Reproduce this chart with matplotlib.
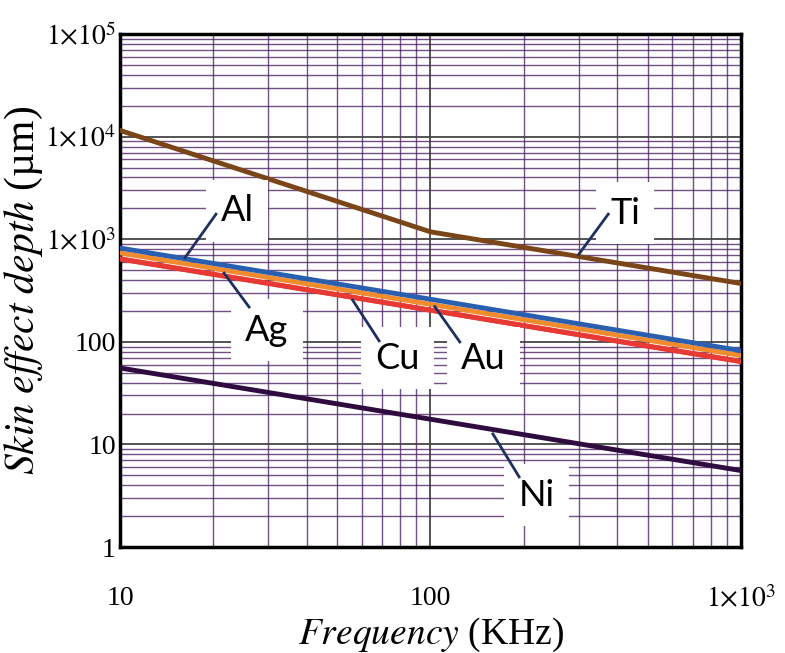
import numpy as np
import matplotlib.pyplot as plt
from matplotlib.ticker import FixedLocator, LogLocator, NullFormatter

plt.rcParams['mathtext.fontset'] = 'stix'
plt.rcParams['font.family'] = 'Liberation Serif'

# frequency in kHz, skin depth in um
freq = [10, 100, 1000]
ti = [11500, 1180, 370]
al = [820, 260, 82]
au = [735, 232, 73.5]
ag = [645, 204, 64.5]
cu = [641, 203, 64]
ni = [55.6, 17.6, 5.56]

colors = {'Ti': '#7a4518', 'Al': '#2a5fb0', 'Au': '#f28a2e', 'Ag': '#e83a3a',
          'Cu': '#e83a35', 'Ni': '#2e0c40'}

fig = plt.figure(figsize=(7.85, 6.53), dpi=100)
ax = fig.add_axes([0.1529, 0.1623, 0.791, 0.7856])
ax.set_xscale('log')
ax.set_yscale('log')
ax.set_xlim(10, 1000)
ax.set_ylim(1, 1e5)

ax.plot(freq, ti, color=colors['Ti'], lw=3.5, zorder=3)
ax.plot(freq, ni, color=colors['Ni'], lw=3.5, zorder=3)
ax.plot(freq, ag, color=colors['Ag'], lw=3.5, zorder=3)
ax.plot(freq, cu, color=colors['Cu'], lw=3.5, zorder=3)
ax.plot(freq, au, color=colors['Au'], lw=3.5, zorder=3)
ax.plot(freq, al, color=colors['Al'], lw=3.5, zorder=3)

# grid
ax.xaxis.set_minor_locator(LogLocator(base=10, subs=np.arange(2, 10)))
ax.yaxis.set_minor_locator(LogLocator(base=10, subs=np.arange(2, 10)))
ax.xaxis.set_minor_formatter(NullFormatter())
ax.yaxis.set_minor_formatter(NullFormatter())
ax.grid(True, which='minor', color='#4e2566', lw=1.0, alpha=0.8)
ax.grid(True, which='major', color='#454545', lw=1.3)
ax.set_axisbelow(True)

yticks = [1, 10, 100, 1e3, 1e4, 1e5]
ylabels = ['1', '10', '100', r'$1{\times}10^{3}$', r'$1{\times}10^{4}$', r'$1{\times}10^{5}$']
xticks = [10, 100, 1000]
xlabels = ['10', '100', r'$1{\times}10^{3}$']
ax.yaxis.set_major_locator(FixedLocator(yticks))
ax.set_yticklabels(ylabels)
ax.xaxis.set_major_locator(FixedLocator(xticks))
ax.set_xticklabels(xlabels)
ax.tick_params(which='both', length=0, labelsize=20)
ax.tick_params(axis='x', pad=28)
ax.tick_params(axis='y', pad=3)

for s in ax.spines.values():
    s.set_linewidth(2.5)
    s.set_color('black')

ax.set_xlabel(r'$\mathit{Frequency}$ (KHz)', fontsize=27, labelpad=2)
ax.set_ylabel(r'$\mathit{Skin\ effect\ depth}$ (µm)', fontsize=30, labelpad=0)

# labels with leader lines
labels = ['Al', 'Ag', 'Cu', 'Au', 'Ti', 'Ni']
texts = [(23.8, 1900), (29.7, 130), (78.5, 69), (148, 69), (423, 1800), (220, 3.2)]
tips = [(16.1, 646), (21.5, 479), (55.8, 262), (102.6, 226), (298, 690), (158, 13)]
ends = [(20.5, 1800), (26.2, 213), (68.7, 99.5), (125, 97.3), (376, 1800), (194, 4.7)]
for name, txt, tip, end in zip(labels, texts, tips, ends):
    ax.text(txt[0], txt[1], name, ha='center', va='center',
            fontsize=26, family='Lato', color='black', zorder=5,
            bbox=dict(boxstyle='square,pad=0.4', fc='white', ec='none'))
    ax.plot([tip[0], end[0]], [tip[1], end[1]], color='#1f3060', lw=2,
            zorder=6, solid_capstyle='butt')

fig.savefig('out.png', dpi=100)
